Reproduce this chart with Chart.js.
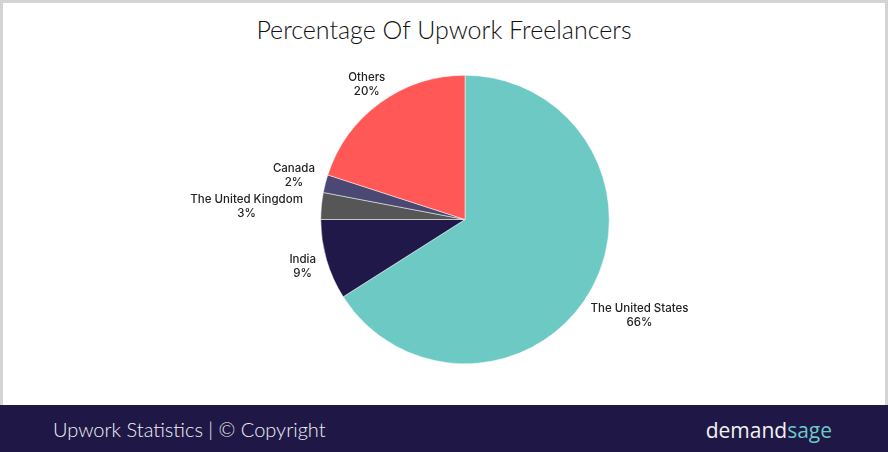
<!DOCTYPE html>
<html lang="en">
<head>
  <meta charset="UTF-8" />
  <title>Percentage Of Upwork Freelancers</title>
  <script src="https://cdn.jsdelivr.net/npm/chart.js"></script>
  <style>
    body {
      margin: 0;
      width: 888px;
      height: 452px;
      overflow: hidden;
      background: #fff;
      font-family: Lato, sans-serif;
    }
    .frame {
      position: absolute;
      left: 0;
      top: 0;
      width: 882px;
      height: 402px;
      border: 3px solid #d4d4d4;
      border-bottom: none;
    }
    .title {
      position: absolute;
      top: 14px;
      left: 0;
      width: 888px;
      text-align: center;
      font-size: 25px;
      font-weight: 300;
      color: #111;
    }
    canvas#pie {
      position: absolute;
      left: 0;
      top: 0;
    }
    .footer {
      position: absolute;
      left: 0;
      top: 405px;
      width: 888px;
      height: 47px;
      background: #1f1847;
      color: #f2f2f2;
    }
    .footer .left {
      position: absolute;
      left: 53px;
      top: 12px;
      font-size: 20px;
      font-weight: 300;
    }
    .footer .brand {
      position: absolute;
      right: 56px;
      top: 11px;
      font-size: 21px;
      font-weight: 500;
      font-family: "Open Sans", sans-serif;
    }
    .brand span { color: #6cc9c3; }
  </style>
</head>
<body>
  <div class="frame"></div>
  <div class="title">Percentage Of Upwork Freelancers</div>
  <canvas id="pie" width="888" height="405"></canvas>
  <div class="footer">
    <div class="left">Upwork Statistics | © Copyright</div>
    <div class="brand">demand<span>sage</span></div>
  </div>

  <script>
    const countries = ['The United States', 'India', 'The United Kingdom', 'Canada', 'Others'];
    const shares = [66, 9, 3, 2, 20];
    const sliceColors = ['#6cc9c3', '#201848', '#565656', '#4b4873', '#ff5857'];

    // labels outside each slice, pushed out by the text width;
    // labels that would collide get moved apart vertically
    const outerLabels = {
      id: 'outerLabels',
      afterDraw(chart) {
        const ctx = chart.ctx;
        const meta = chart.getDatasetMeta(0);
        ctx.save();
        ctx.font = '500 11.5px Inter, sans-serif';
        ctx.fillStyle = '#222';
        ctx.textAlign = 'center';
        ctx.textBaseline = 'middle';
        const items = meta.data.map((arc, i) => {
          const mid = (arc.startAngle + arc.endAngle) / 2;
          const dx = Math.cos(mid), dy = Math.sin(mid);
          const line1 = countries[i];
          const line2 = shares[i] + '%';
          const w = Math.max(ctx.measureText(line1).width, ctx.measureText(line2).width);
          const dist = arc.outerRadius + 12 + Math.abs(dx) * w / 2;
          return { line1, line2, dx, x: arc.x + dx * dist, y: arc.y + dy * dist, cx: arc.x };
        });
        const minGap = 31;
        const left = items.filter(it => it.dx < 0).sort((a, b) => a.y - b.y);
        for (let k = 1; k < left.length; k++) {
          const push = left[k - 1].y + minGap - left[k].y;
          if (push > 0) {
            left[k].y += push;
            left[k].x -= push;
          }
        }
        items.forEach(it => {
          ctx.fillText(it.line1, it.x, it.y - 7);
          ctx.fillText(it.line2, it.x, it.y + 7);
        });
        ctx.restore();
      }
    };

    new Chart(document.getElementById('pie'), {
      type: 'pie',
      data: {
        labels: countries,
        datasets: [{
          data: shares,
          backgroundColor: sliceColors,
          borderColor: '#ffffff',
          borderWidth: 0.5
        }]
      },
      options: {
        responsive: false,
        animation: false,
        layout: { padding: { top: 75, bottom: 41, left: 42, right: 0 } },
        plugins: {
          legend: { display: false },
          tooltip: { enabled: false }
        }
      },
      plugins: [outerLabels]
    });
  </script>
</body>
</html>
